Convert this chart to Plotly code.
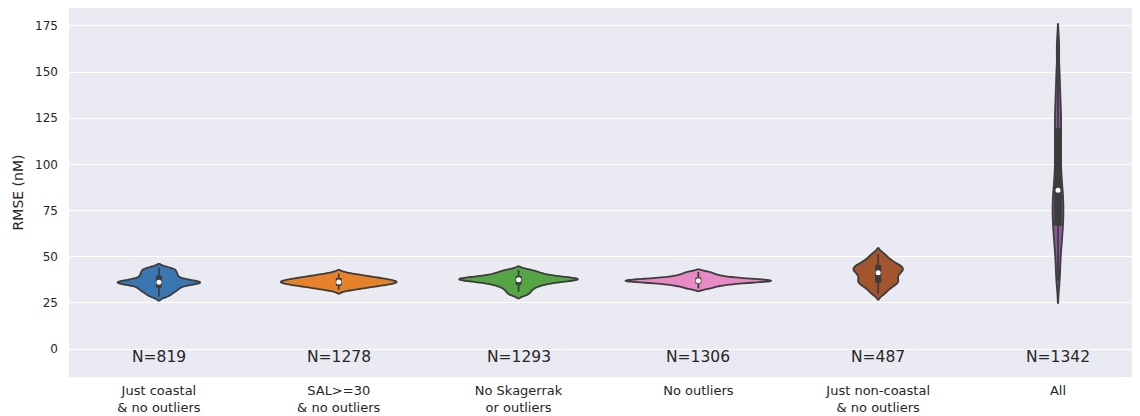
import plotly.graph_objects as go
import statistics

# categories as they appear on the x axis
categories = [
    "Just coastal<br>& no outliers",
    "SAL>=30<br>& no outliers",
    "No Skagerrak<br>or outliers",
    "No outliers",
    "Just non-coastal<br>& no outliers",
    "All",
]
counts = [819, 1278, 1293, 1306, 487, 1342]

# RMSE (nM) samples estimated from the violin shapes
rmse_coastal = [28.5, 29.8, 30.9, 31.8, 32.5, 33.3, 34.0, 34.7, 35.2, 35.6, 35.9, 36.1,
                36.3, 36.6, 37.0, 37.5, 38.2, 39.0, 39.8, 40.6, 41.4, 42.3, 43.2, 44.0]
rmse_sal30 = [32.1, 32.9, 33.5, 33.9, 34.3, 34.7, 35.0, 35.3, 35.5, 35.8, 36.1, 36.3,
              36.5, 36.8, 37.0, 37.3, 37.6, 37.9, 38.2, 38.6, 39.0, 39.4, 40.0, 40.9]
rmse_no_skag = [29.5, 31.0, 32.3, 33.4, 34.3, 35.0, 35.6, 36.1, 36.5, 36.9, 37.2, 37.5,
                37.7, 37.9, 38.1, 38.3, 38.6, 38.9, 39.3, 39.8, 40.4, 41.1, 41.9, 42.8]
rmse_no_out = [32.8, 33.8, 34.5, 35.0, 35.4, 35.8, 36.1, 36.3, 36.5, 36.7, 36.85, 37.0,
               37.15, 37.3, 37.5, 37.7, 37.9, 38.2, 38.5, 38.9, 39.4, 40.0, 40.8, 41.8]
rmse_noncoastal = [30.0, 32.0, 33.5, 34.6, 35.5, 36.3, 37.0, 37.8, 38.7, 39.6, 40.5, 41.3,
                   42.0, 42.7, 43.3, 43.9, 44.5, 45.2, 46.0, 46.9, 48.0, 49.5, 51.5]
rmse_all = [37, 45, 52, 57, 61, 65, 68, 71, 74, 77, 80, 83, 86, 90, 95, 100, 106, 112,
            118, 123, 128, 134, 141, 150, 164]

series = [rmse_coastal, rmse_sal30, rmse_no_skag, rmse_no_out, rmse_noncoastal, rmse_all]

COLORS = ["#3a76b0", "#e8822a", "#55a546", "#e88ac5", "#a3552e", "#8c5a9e"]
# violin full width (category units), kde bandwidth, inner box fraction
WIDTHS = [0.46, 0.645, 0.66, 0.81, 0.275, 0.06]
BANDW = [1.1, 1.0, 1.0, 0.7, 1.6, 6.0]
BOXW = [0.05, 0.035, 0.035, 0.028, 0.085, 0.55]
EDGE = "#3d3d3d"
TEXT = "#262626"

fig = go.Figure()
for cat, vals, col, w, bw, bx in zip(categories, series, COLORS, WIDTHS, BANDW, BOXW):
    fig.add_trace(go.Violin(
        x=[cat] * len(vals),
        y=vals,
        name=cat,
        fillcolor=col,
        opacity=1,
        line=dict(color=EDGE, width=1.8),
        width=w,
        bandwidth=bw,
        scalemode="width",
        points=False,
        box=dict(visible=True, width=bx, fillcolor=EDGE,
                 line=dict(color=EDGE, width=1.8)),
        meanline=dict(visible=False),
        hoverinfo="skip",
        showlegend=False,
    ))

# white median dots like seaborn's inner box
fig.add_trace(go.Scatter(
    x=categories,
    y=[statistics.median(v) for v in series],
    mode="markers",
    marker=dict(color="white", size=5),
    hoverinfo="skip",
    showlegend=False,
))

for cat, n in zip(categories, counts):
    fig.add_annotation(x=cat, y=-4.5, text=f"N={n}", showarrow=False,
                       font=dict(size=15.5, color=TEXT))

# page body keeps an 8px margin, so the figure is sized to what remains
fig.update_layout(
    width=1132,
    height=408,
    violinmode="overlay",
    plot_bgcolor="#EAEAF2",
    paper_bgcolor="white",
    font=dict(family="DejaVu Sans", color=TEXT),
    margin=dict(l=61, r=0, t=0, b=39),
    xaxis=dict(range=[-0.5, 5.456], showgrid=False, zeroline=False,
               tickfont=dict(size=13), ticklabelstandoff=4),
    yaxis=dict(range=[-15.1, 184.7], tick0=0, dtick=25, gridcolor="white",
               gridwidth=1.3, zeroline=False, tickfont=dict(size=12),
               ticklabelstandoff=10,
               title=dict(text="RMSE (nM)", font=dict(size=14), standoff=8)),
)

fig.write_html("out.html")
